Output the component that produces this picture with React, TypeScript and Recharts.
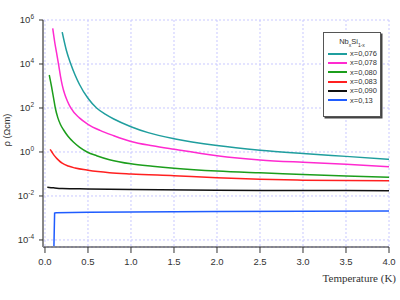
import React from 'react';
import { LineChart, Line, XAxis, YAxis, CartesianGrid, Legend } from 'recharts';

// Temperature (K) and log10(rho / Ohm cm) for each composition
const T_076 = [0.2, 0.25, 0.3, 0.35, 0.4, 0.5, 0.6, 0.7, 0.8, 1.0, 1.2, 1.5, 2.0, 2.5, 3.0, 3.5, 4.0];
const LOG_076 = [5.45, 4.6, 4.0, 3.5, 3.08, 2.44, 2.0, 1.72, 1.5, 1.15, 0.88, 0.6, 0.29, 0.08, -0.07, -0.2, -0.33];

const T_078 = [0.09, 0.1, 0.113, 0.135, 0.157, 0.18, 0.2, 0.23, 0.26, 0.3, 0.4, 0.5, 0.64, 0.8, 1.0, 1.25, 1.5, 2.0, 2.5, 3.0, 3.5, 4.0];
const LOG_078 = [5.62, 5.35, 5.0, 4.5, 4.0, 3.45, 3.05, 2.62, 2.32, 2.0, 1.55, 1.26, 0.98, 0.74, 0.48, 0.28, 0.12, -0.17, -0.36, -0.47, -0.56, -0.67];

const T_080 = [0.05, 0.075, 0.1, 0.12, 0.15, 0.18, 0.217, 0.27, 0.33, 0.4, 0.49, 0.6, 0.75, 1.0, 1.25, 1.5, 2.0, 2.5, 3.0, 3.5, 4.0];
const LOG_080 = [3.5, 3.0, 2.45, 2.0, 1.55, 1.25, 1.0, 0.7, 0.45, 0.22, 0.0, -0.17, -0.35, -0.54, -0.65, -0.74, -0.87, -0.95, -1.02, -1.09, -1.15];

const T_083 = [0.06, 0.08, 0.1, 0.13, 0.16, 0.2, 0.27, 0.35, 0.5, 0.75, 1.0, 1.5, 2.0, 2.5, 3.0, 3.5, 4.0];
const LOG_083 = [0.12, 0.0, -0.12, -0.26, -0.38, -0.51, -0.64, -0.73, -0.83, -0.94, -1.0, -1.08, -1.17, -1.24, -1.28, -1.3, -1.31];

const T_090 = [0.027, 0.1, 0.2, 0.5, 1.0, 2.0, 3.0, 4.0];
const LOG_090 = [-1.6, -1.63, -1.66, -1.68, -1.71, -1.74, -1.75, -1.76];

const T_13 = [0.104, 0.112, 0.13, 0.5, 1.0, 2.0, 3.0, 4.0];
const LOG_13 = [-4.28, -2.78, -2.76, -2.74, -2.73, -2.71, -2.7, -2.68];

const SERIES_NAMES = ['x=0,076', 'x=0,078', 'x=0,080', 'x=0,083', 'x=0,090', 'x=0,13'];
const SERIES_COLORS = ['#1f9e9e', '#ff2ad0', '#1c9e1c', '#ff2020', '#111111', '#1f5cff'];
const SERIES_T = [T_076, T_078, T_080, T_083, T_090, T_13];
const SERIES_LOG = [LOG_076, LOG_078, LOG_080, LOG_083, LOG_090, LOG_13];
const SERIES_CURVE = ['monotone', 'monotone', 'monotone', 'monotone', 'monotone', 'linear'];

const X_TICKS = [0, 0.5, 1.0, 1.5, 2.0, 2.5, 3.0, 3.5, 4.0];
const Y_TICKS = [-4, -3, -2, -1, 0, 1, 2, 3, 4, 5, 6];

const series = SERIES_NAMES.map((name, i) => ({
  name,
  color: SERIES_COLORS[i],
  curve: SERIES_CURVE[i],
  data: SERIES_T[i].map((t, j) => ({ t, v: SERIES_LOG[i][j] })),
}));

const SANS = 'Liberation Sans, Arial, sans-serif';

const YTick = (props: any) => {
  const { x, y, payload } = props;
  const v = payload.value;
  if (v % 2 !== 0) return null;
  return (
    <text x={x} y={y} textAnchor="end" fontSize={9.5} fill="#333" fontFamily={SANS}>
      <tspan dy="0.35em">10</tspan>
      <tspan dy={-4} fontSize={6.5}>{v}</tspan>
    </text>
  );
};

const XTick = (props: any) => {
  const { x, y, payload } = props;
  return (
    <text x={x} y={y + 10} textAnchor="middle" fontSize={9.5} fill="#333" fontFamily={SANS}>
      {Number(payload.value).toFixed(1)}
    </text>
  );
};

const YLabel = () => (
  <text x={10} y={130} transform="rotate(-90 10 130)" textAnchor="middle" fontSize={9} fill="#333" fontFamily={SANS}>
    ρ (Ωcm)
  </text>
);

const XLabel = () => (
  <text x={396} y={282} textAnchor="end" fontSize={11} fill="#333" fontFamily="Liberation Serif, serif">
    Temperature (K)
  </text>
);

const LegendBox = () => (
  <div
    style={{
      width: 58,
      height: 85,
      background: '#fff',
      border: '1px solid #555',
      boxShadow: '1.5px 1.5px 0 #444',
      fontFamily: SANS,
      fontSize: 7.5,
      color: '#333',
      boxSizing: 'border-box',
    }}
  >
    <div style={{ textAlign: 'center', height: 16, lineHeight: '18px' }}>
      Nb<sub style={{ fontSize: 5 }}>x</sub>Si<sub style={{ fontSize: 5 }}>1-x</sub>
    </div>
    {series.map((s) => (
      <div key={s.name} style={{ display: 'flex', alignItems: 'center', height: 9.3, paddingLeft: 4 }}>
        <div style={{ width: 19, height: 2, background: s.color, marginRight: 3 }} />
        <span style={{ lineHeight: '9px' }}>{s.name}</span>
      </div>
    ))}
  </div>
);

export default function App() {
  return (
    <div style={{ position: 'absolute', left: 0, top: 0 }}>
      <LineChart width={400} height={300} margin={{ top: 20, right: 11, left: 0, bottom: 23 }}>
        <CartesianGrid stroke="#c8c8ff" strokeDasharray="2 2" />
        <XAxis
          type="number"
          dataKey="t"
          domain={[-0.023, 4]}
          ticks={X_TICKS}
          allowDataOverflow
          height={30}
          tickSize={6}
          tick={<XTick />}
          axisLine={{ stroke: '#222' }}
          tickLine={{ stroke: '#333' }}
          label={<XLabel />}
        />
        <YAxis
          type="number"
          dataKey="v"
          domain={[-4.32, 6]}
          ticks={Y_TICKS}
          allowDataOverflow
          width={43}
          tickSize={4}
          tickMargin={5}
          tick={<YTick />}
          axisLine={{ stroke: '#888', strokeWidth: 2 }}
          tickLine={{ stroke: '#333' }}
          label={<YLabel />}
        />
        <Legend
          layout="vertical"
          align="center"
          verticalAlign="middle"
          content={<LegendBox />}
          wrapperStyle={{ left: 323, top: 32, width: 60, height: 87 }}
        />
        {series.map((s) => (
          <Line
            key={s.name}
            name={s.name}
            data={s.data}
            dataKey="v"
            type={s.curve as any}
            stroke={s.color}
            strokeWidth={1.5}
            dot={false}
            isAnimationActive={false}
          />
        ))}
      </LineChart>
    </div>
  );
}
